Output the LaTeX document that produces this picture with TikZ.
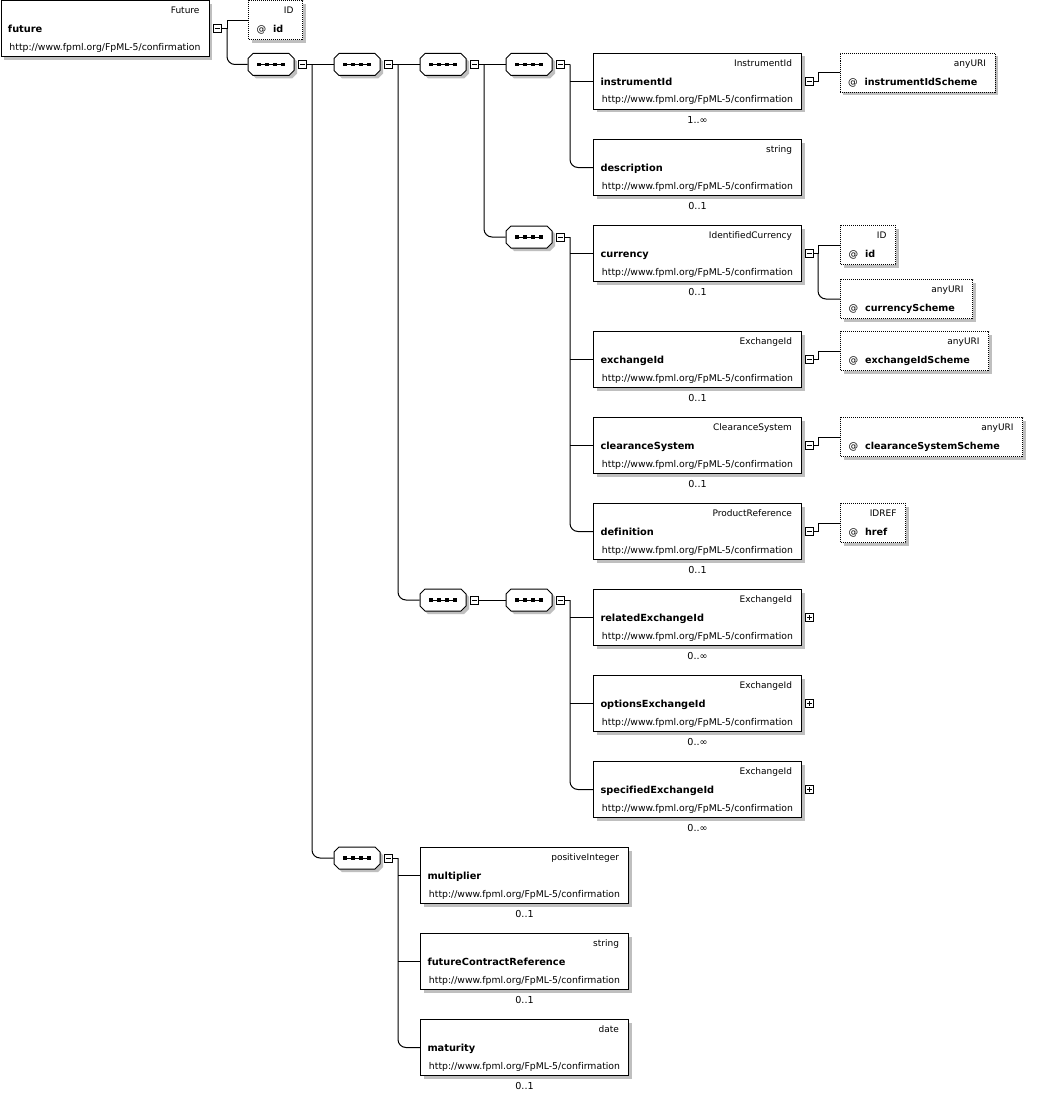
\documentclass[tikz,border=0pt]{standalone}
\usepackage{fontspec}
\setmainfont{DejaVu Sans}[Ligatures=NoCommon]
\usetikzlibrary{positioning}
\usetikzlibrary{shadows}
\definecolor{shadowgray}{rgb}{0.75,0.75,0.75}

\begin{document}
\begin{tikzpicture}[x=1pt, y=-1pt, line width=1pt,
    elem/.style={draw, fill=white, anchor=north west, minimum width=208pt, minimum height=56pt, inner sep=0pt,
      drop shadow={shadow xshift=3pt, shadow yshift=-3pt, fill=shadowgray, opacity=1}},
    attr/.style={draw, fill=white, dash pattern=on 1pt off 1pt, anchor=north west, minimum height=39pt, inner sep=0pt,
      drop shadow={shadow xshift=3pt, shadow yshift=-3pt, fill=shadowgray, opacity=1}},
    seqnode/.style={minimum width=46pt, minimum height=22pt, inner sep=0pt},
    minusbox/.style={draw, fill=white, minimum size=8pt, inner sep=0pt,
      path picture={\draw ([xshift=-2.5pt]path picture bounding box.center) -- ([xshift=2.5pt]path picture bounding box.center);}},
    plusbox/.style={draw, fill=white, minimum size=8pt, inner sep=0pt,
      path picture={\draw ([xshift=-2.5pt]path picture bounding box.center) -- ([xshift=2.5pt]path picture bounding box.center);
        \draw ([yshift=-2.5pt]path picture bounding box.center) -- ([yshift=2.5pt]path picture bounding box.center);}},
    typetext/.style={font=\fontsize{9}{10}\selectfont, inner sep=0pt, anchor=base east},
    nametext/.style={font=\fontsize{9.8}{11}\selectfont\bfseries, inner sep=0pt, anchor=base west},
    urltext/.style={font=\fontsize{9.3}{10}\selectfont, inner sep=0pt, anchor=base},
    multtext/.style={font=\fontsize{9.6}{11}\selectfont, inner sep=0pt, anchor=base},
    attrtext/.style={font=\fontsize{9.6}{11}\selectfont, inner sep=0pt, anchor=base west},
    link/.style={rounded corners=8pt}]
\useasboundingbox[fill=white] (0,0) rectangle (1063,1097);

% trunk columns
\coordinate (t0) at (227,0);
\coordinate (t1) at (312,0);
\coordinate (t2) at (398,0);
\coordinate (t3) at (484,0);
\coordinate (t4) at (570,0);
\coordinate (ta) at (818,0);

% root element
\node[elem] (future) at (0.5,0.5) {};
\node[typetext] (future-t) at ([shift={(-9.5pt,-13.5pt)}]future.north east) {Future};
\node[nametext] (future-n) at ([shift={(7pt,-32.5pt)}]future.north west) {future};
\node[urltext] (future-u) at ([yshift=-50pt]future.north) {http://www.fpml.org/FpML-5/confirmation};
\node[minusbox, right=3pt of future] (future-x) {};

% child elements
\foreach \nm/\px/\py/\ty/\mult in {instrumentId/593/53/InstrumentId/1..∞,
    description/593/139/string/0..1,
    currency/593/225/IdentifiedCurrency/0..1,
    exchangeId/593/331/ExchangeId/0..1,
    clearanceSystem/593/417/ClearanceSystem/0..1,
    definition/593/503/ProductReference/0..1,
    relatedExchangeId/593/589/ExchangeId/0..∞,
    optionsExchangeId/593/675/ExchangeId/0..∞,
    specifiedExchangeId/593/761/ExchangeId/0..∞,
    multiplier/420/847/positiveInteger/0..1,
    futureContractReference/420/933/string/0..1,
    maturity/420/1019/date/0..1}{
  \node[elem] (\nm) at (\px,\py) {};
  \node[typetext] (\nm-t) at ([shift={(-9.5pt,-13.5pt)}]\nm.north east) {\ty};
  \node[nametext] (\nm-n) at ([shift={(7pt,-32.5pt)}]\nm.north west) {\nm};
  \node[urltext] (\nm-u) at ([yshift=-50pt]\nm.north) {http://www.fpml.org/FpML-5/confirmation};
  \node[multtext] (\nm-m) at ([yshift=-70.5pt]\nm.north) {\mult};
}
\foreach \nm in {instrumentId,currency,exchangeId,clearanceSystem,definition}
  \node[minusbox, right=3pt of \nm] (\nm-x) {};
\foreach \nm in {relatedExchangeId,optionsExchangeId,specifiedExchangeId}
  \node[plusbox, right=3pt of \nm] (\nm-x) {};

% attributes
\foreach \nm/\px/\py/\w/\ty/\at in {fid/248/0.5/54/ID/id,
    ischeme/839.5/53/155/anyURI/instrumentIdScheme,
    cid/840/225/55/ID/id,
    cscheme/840/279/132/anyURI/currencyScheme,
    escheme/840/331/148/anyURI/exchangeIdScheme,
    csscheme/840/417/182/anyURI/clearanceSystemScheme,
    href/840/503/65/IDREF/href}{
  \node[attr, minimum width=\w] (\nm) at (\px,\py) {};
  \node[typetext] (\nm-t) at ([shift={(-9pt,-13.5pt)}]\nm.north east) {\ty};
  \node[attrtext] (\nm-n) at ([shift={(8pt,-32.5pt)}]\nm.north west) {@\hspace{7pt}\textbf{\at}};
}

% sequence compositors
\node[seqnode] (sa) at (271,64.5) {};
\node[seqnode] (sb) at (357,64.5) {};
\node[seqnode] (sc) at (443,64.5) {};
\node[seqnode] (sd) at (529,64.5) {};
\node[seqnode] (se) at (529,237) {};
\node[seqnode] (sf) at (443,600) {};
\node[seqnode] (sg) at (529,600) {};
\node[seqnode] (sh) at (357,858) {};
\foreach \s in {sa,sb,sc,sd,se,sf,sg,sh}{
  \begin{scope}[shift={(\s.center)}]
    \fill[shadowgray] (-15,-8) -- (21,-8) -- (26,-3) -- (26,9) -- (21,14) -- (-15,14) -- (-20,9) -- (-20,-3) -- cycle;
    \draw[fill=white] (-18,-11) -- (18,-11) -- (23,-6) -- (23,6) -- (18,11) -- (-18,11) -- (-23,6) -- (-23,-6) -- cycle;
    \draw (-12,0) -- (12,0);
    \foreach \d in {-12,-4,4,12}
      \fill (\d-1.75,-1.75) rectangle (\d+1.75,1.75);
  \end{scope}
  \node[minusbox, right=3.5pt of \s] (\s-x) {};
}

% root links
\draw (future-x.east) -| (t0 |- fid.west) -- (fid.west);
\draw[link] (future-x.east -| t0) |- (sa.west);

% compositor links
\draw (sa-x.east) -- (sb.west);
\draw[link] (sa-x.east -| t1) |- (sh.west);
\draw (sb-x.east) -- (sc.west);
\draw[link] (sb-x.east -| t2) |- (sf.west);
\draw (sc-x.east) -- (sd.west);
\draw[link] (sc-x.east -| t3) |- (se.west);
\draw (sf-x.east) -- (sg.west);

\draw (sd-x.east) -- (sd-x.east -| t4);
\draw (instrumentId.west -| t4) -- (instrumentId.west);
\draw[link] (sd-x.east -| t4) |- (description.west);

\draw (se-x.east) -- (se-x.east -| t4);
\foreach \nm in {currency,exchangeId,clearanceSystem}
  \draw (\nm.west -| t4) -- (\nm.west);
\draw[link] (se-x.east -| t4) |- (definition.west);

\draw (sg-x.east) -- (sg-x.east -| t4);
\foreach \nm in {relatedExchangeId,optionsExchangeId}
  \draw (\nm.west -| t4) -- (\nm.west);
\draw[link] (sg-x.east -| t4) |- (specifiedExchangeId.west);

\draw (sh-x.east) -- (sh-x.east -| t2);
\foreach \nm in {multiplier,futureContractReference}
  \draw (\nm.west -| t2) -- (\nm.west);
\draw[link] (sh-x.east -| t2) |- (maturity.west);

% attribute links
\draw (instrumentId-x.east) -| (ta |- ischeme.west) -- (ischeme.west);
\draw (currency-x.east) -| (ta |- cid.west) -- (cid.west);
\draw[link] (currency-x.east -| ta) |- (cscheme.west);
\draw (exchangeId-x.east) -| (ta |- escheme.west) -- (escheme.west);
\draw (clearanceSystem-x.east) -| (ta |- csscheme.west) -- (csscheme.west);
\draw (definition-x.east) -| (ta |- href.west) -- (href.west);
\end{tikzpicture}
\end{document}
